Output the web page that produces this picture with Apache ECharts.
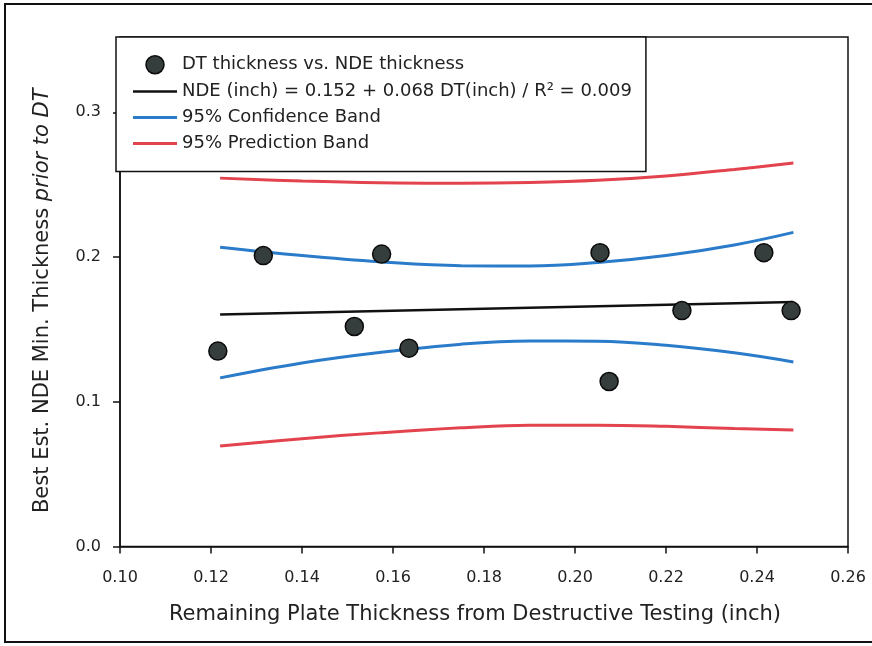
<!DOCTYPE html>
<html>
<head>
<meta charset="utf-8">
<title>DT vs NDE thickness</title>
<script src="https://cdn.jsdelivr.net/npm/echarts@6/dist/echarts.min.js"></script>
<style>
  html, body { margin: 0; padding: 0; background: #fff; }
  #chart { width: 872px; height: 646px; }
</style>
</head>
<body>
<div id="chart"></div>
<script>
// Measured plate thickness: destructive testing (x) vs. best NDE estimate (y), inches
const dtThickness  = [0.1215, 0.1315, 0.1515, 0.1575, 0.1635, 0.2055, 0.2075, 0.2235, 0.2415, 0.2475];
const ndeThickness = [0.135, 0.201, 0.152, 0.202, 0.137, 0.203, 0.114, 0.163, 0.203, 0.163];

// Linear fit NDE = a + b * DT
const fitIntercept = 0.152;
const fitSlope = 0.068;
const fitRange = [0.122, 0.248];

// Band curves sampled along DT
const bandX       = [0.122, 0.140, 0.157, 0.175, 0.190, 0.205, 0.220, 0.235, 0.248];
const confUpper   = [0.2068, 0.2010, 0.1967, 0.1940, 0.1938, 0.1962, 0.2010, 0.2083, 0.2170];
const confLower   = [0.1165, 0.1268, 0.1340, 0.1398, 0.1420, 0.1418, 0.1390, 0.1338, 0.1275];
const predUpper   = [0.2545, 0.2525, 0.2513, 0.2510, 0.2515, 0.2530, 0.2560, 0.2605, 0.2650];
const predLower   = [0.0695, 0.0745, 0.0785, 0.0820, 0.0838, 0.0838, 0.0830, 0.0815, 0.0805];

// Axis ticks
const xTicks = [0.10, 0.12, 0.14, 0.16, 0.18, 0.20, 0.22, 0.24, 0.26];
const yTicks = [0.0, 0.1, 0.2, 0.3];

const names = {
  points: 'DT thickness vs. NDE thickness',
  fit: 'NDE (inch) = 0.152 + 0.068 DT(inch) / R\u00B2 = 0.009',
  conf: '95% Confidence Band',
  pred: '95% Prediction Band'
};

const pair = (xs, ys) => xs.map((x, i) => [x, ys[i]]);
const fitLine = fitRange.map(x => [x, fitIntercept + fitSlope * x]);

const textFont = '"DejaVu Sans", "Liberation Sans", sans-serif';
const blue = '#2a7cca';
const red = '#e2434d';
const lineIcon = h => 'path://M0,0 L44,0 L44,' + h + ' L0,' + h + ' Z';

const bandSeries = (name, ys, color) => ({
  name: name,
  type: 'line',
  data: pair(bandX, ys),
  smooth: 0.4,
  symbol: 'none',
  silent: true,
  lineStyle: { color: color, width: 3 },
  itemStyle: { color: color },
  z: 3
});

const chart = echarts.init(document.getElementById('chart'), null, { renderer: 'canvas' });

chart.setOption({
  animation: false,
  backgroundColor: '#ffffff',
  textStyle: { fontFamily: textFont, color: '#222' },
  graphic: [{
    type: 'rect',
    shape: { x: 5, y: 4, width: 880, height: 638 },
    style: { fill: 'none', stroke: '#111', lineWidth: 2 },
    silent: true,
    z: 0
  }],
  grid: {
    left: 120, right: 24, top: 37, bottom: 99.5,
    show: true, borderColor: '#111', borderWidth: 1.5, backgroundColor: 'transparent'
  },
  legend: {
    left: 116, top: 37,
    orient: 'vertical',
    padding: [18, 14, 19, 17],
    itemWidth: 44, itemHeight: 18, itemGap: 8,
    borderColor: '#111', borderWidth: 1.5,
    backgroundColor: '#fff',
    selectedMode: false,
    textStyle: { fontFamily: textFont, fontSize: 18, color: '#222', lineHeight: 18 },
    data: [
      { name: names.points, icon: 'circle', itemStyle: { color: '#363d3d', borderColor: '#0a0a0a', borderWidth: 1.5 } },
      { name: names.fit, icon: lineIcon(2.5), itemStyle: { color: '#111', borderWidth: 0 } },
      { name: names.conf, icon: lineIcon(3), itemStyle: { color: blue, borderWidth: 0 } },
      { name: names.pred, icon: lineIcon(3), itemStyle: { color: red, borderWidth: 0 } }
    ],
    z: 10
  },
  xAxis: {
    type: 'value',
    min: 0.10, max: 0.26, interval: 0.02,
    name: 'Remaining Plate Thickness from Destructive Testing (inch)',
    nameLocation: 'middle', nameGap: 58,
    nameTextStyle: { fontFamily: textFont, fontSize: 21, color: '#222', padding: [0, 18, 0, 0] },
    axisLine: { show: true, lineStyle: { color: '#111', width: 1.5 } },
    axisTick: { show: true, inside: false, length: 7, lineStyle: { color: '#111', width: 1.5 } },
    axisLabel: {
      margin: 23, fontFamily: textFont, fontSize: 16, color: '#222',
      customValues: xTicks,
      formatter: v => v.toFixed(2)
    },
    splitLine: { show: false }
  },
  yAxis: {
    type: 'value',
    min: 0, max: 0.352,
    name: '{n|Best Est. NDE Min. Thickness }{i|prior to DT}',
    nameLocation: 'middle', nameGap: 67, nameRotate: 90,
    nameTextStyle: {
      padding: [0, 18, 0, 0],
      rich: {
        n: { fontFamily: textFont, fontSize: 21, color: '#222' },
        i: { fontFamily: textFont, fontSize: 21, color: '#222', fontStyle: 'italic' }
      }
    },
    axisLine: { show: true, lineStyle: { color: '#111', width: 1.5 } },
    axisTick: { show: true, inside: false, length: 7, customValues: yTicks, lineStyle: { color: '#111', width: 1.5 } },
    axisLabel: {
      margin: 19, fontFamily: textFont, fontSize: 16, color: '#222',
      customValues: yTicks,
      formatter: v => v.toFixed(1)
    },
    splitLine: { show: false }
  },
  series: [
    bandSeries(names.pred, predUpper, red),
    bandSeries(names.pred, predLower, red),
    bandSeries(names.conf, confUpper, blue),
    bandSeries(names.conf, confLower, blue),
    {
      name: names.fit,
      type: 'line',
      data: fitLine,
      symbol: 'none',
      silent: true,
      lineStyle: { color: '#111', width: 2.5 },
      itemStyle: { color: '#111' },
      z: 4
    },
    {
      name: names.points,
      type: 'scatter',
      data: pair(dtThickness, ndeThickness),
      symbol: 'circle',
      symbolSize: 18,
      itemStyle: { color: '#363d3d', borderColor: '#0a0a0a', borderWidth: 1.5, opacity: 1 },
      z: 5
    }
  ]
});
</script>
</body>
</html>
